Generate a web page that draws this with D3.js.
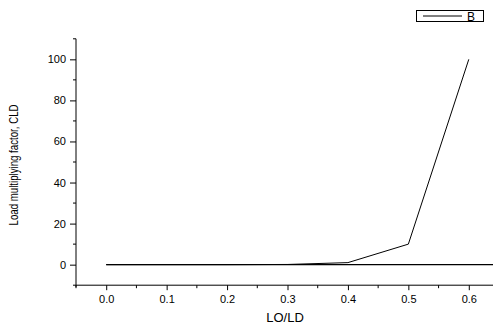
<!DOCTYPE html>
<html>
<head>
<meta charset="utf-8">
<script src="https://cdn.jsdelivr.net/npm/d3@7"></script>
<style>
  body { margin: 0; background: #fff; }
  svg { display: block; font-family: "Liberation Sans", Arial, sans-serif; }
</style>
</head>
<body>
<script>
// series B
const xValues = [0.0, 0.1, 0.2, 0.3, 0.4, 0.5, 0.6];
const bValues = [0, 0, 0, 0.1, 1, 10, 100];
// zero line running on to the right edge
const baseX = [0.0, 0.65];
const baseY = [0, 0];

const xTicks = [0.0, 0.1, 0.2, 0.3, 0.4, 0.5, 0.6];
const yTicks = [0, 20, 40, 60, 80, 100];

const width = 493,
  height = 324;

const svg = d3
  .select("body")
  .append("svg")
  .attr("width", width)
  .attr("height", height);

const x = d3.scaleLinear().domain([-0.05, 0.65]).range([76, 499]);
const y = d3.scaleLinear().domain([-10, 110]).range([285.2, 38.8]);

// minor ticks (no labels)
const xMinor = d3.range(-0.05, 0.66, 0.1).map((d) => +d.toFixed(2));
const yMinor = d3.range(-10, 111, 20);

const xAxis = svg.append("g").attr("transform", `translate(0,${y(-10)})`);
xAxis
  .call(d3.axisBottom(x).tickValues(xTicks).tickFormat(d3.format(".1f")).tickSize(5).tickPadding(5))
  .call((g) => g.select(".domain").attr("d", `M${x(-0.05)},0H${width}`));
xAxis
  .selectAll("line.minor")
  .data(xMinor)
  .join("line")
  .attr("class", "minor")
  .attr("x1", (d) => x(d))
  .attr("x2", (d) => x(d))
  .attr("y1", 0)
  .attr("y2", 3)
  .attr("stroke", "#000");

const yAxis = svg.append("g").attr("transform", `translate(${x(-0.05)},0)`);
yAxis
  .call(d3.axisLeft(y).tickValues(yTicks).tickSize(6).tickPadding(4))
  .call((g) => g.select(".domain").attr("d", `M0,${y(110)}V${y(-10) + 2}`));
yAxis
  .selectAll("line.minor")
  .data(yMinor)
  .join("line")
  .attr("class", "minor")
  .attr("x1", 0)
  .attr("x2", -3)
  .attr("y1", (d) => y(d))
  .attr("y2", (d) => y(d))
  .attr("stroke", "#000");

svg.selectAll(".tick text").attr("font-size", 11).attr("font-family", "Liberation Sans, Arial, sans-serif").attr("fill", "#000");
svg.selectAll(".domain, .tick line").attr("stroke", "#000");

const line = d3
  .line()
  .x((d) => x(d[0]))
  .y((d) => y(d[1]));

svg
  .append("path")
  .datum(baseX.map((d, i) => [d, baseY[i]]))
  .attr("d", line)
  .attr("fill", "none")
  .attr("stroke", "#000")
  .attr("stroke-width", 1.3);

svg
  .append("path")
  .datum(xValues.map((d, i) => [d, bValues[i]]))
  .attr("d", line)
  .attr("fill", "none")
  .attr("stroke", "#000")
  .attr("stroke-width", 1);

// axis titles
svg
  .append("text")
  .attr("x", 285)
  .attr("y", 322)
  .attr("text-anchor", "middle")
  .attr("font-size", 13)
  .text("LO/LD");

svg
  .append("text")
  .attr("transform", "translate(18,165) rotate(-90)")
  .attr("text-anchor", "middle")
  .attr("font-size", 12)
  .attr("textLength", 121)
  .attr("lengthAdjust", "spacingAndGlyphs")
  .text("Load multiplying factor, CLD");

// legend
const legend = svg.append("g");
legend
  .append("rect")
  .attr("x", 416.5)
  .attr("y", 10.5)
  .attr("width", 67)
  .attr("height", 11)
  .attr("fill", "none")
  .attr("stroke", "#000");
legend
  .append("line")
  .attr("x1", 423)
  .attr("x2", 462)
  .attr("y1", 16)
  .attr("y2", 16)
  .attr("stroke", "#000");
legend
  .append("text")
  .attr("x", 467)
  .attr("y", 20.5)
  .attr("font-size", 12)
  .text("B");
</script>
</body>
</html>
